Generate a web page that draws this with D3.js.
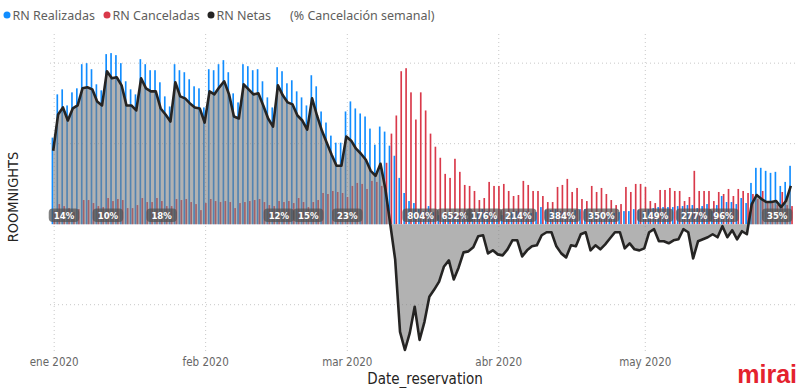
<!DOCTYPE html>
<html>
<head>
<meta charset="utf-8">
<script src="https://cdn.jsdelivr.net/npm/d3@7"></script>
<style>
  body { margin: 0; background: #fff; }
  svg { display: block; }
</style>
</head>
<body>
<div class="chart"></div>
<script>
const width = 800, height = 388;

// daily series, 1 ene 2020 .. 31 may 2020
const realizadas = [
  430,645,670,590,655,675,795,800,770,695,
  665,845,850,840,800,710,670,645,820,795,
  765,765,705,635,585,795,765,755,720,685,
  675,580,770,765,795,815,755,650,605,795,
  785,765,770,710,630,580,780,760,700,715,
  660,630,590,740,685,560,505,440,405,405,
  560,610,575,550,535,475,395,485,460,390,
  340,230,155,115,105,75,65,90,60,45,
  40,50,50,45,55,55,50,60,75,65,
  60,40,45,40,60,65,55,65,55,60,
  85,70,70,75,65,60,55,70,75,75,
  60,55,55,50,50,55,60,65,65,75,
  70,65,75,80,85,85,85,85,90,90,
  95,95,80,90,100,65,95,140,110,110,
  100,130,105,205,280,280,265,255,260,190,
  210,290
];
const canceladas = [
  65,100,90,80,60,75,120,120,105,90,
  85,130,115,125,120,80,80,95,130,110,
  110,130,115,90,90,125,120,125,110,100,
  70,105,125,115,110,115,110,80,105,110,
  115,120,125,110,95,90,115,110,115,105,
  130,110,85,110,120,155,150,165,160,155,
  135,190,205,200,175,215,210,190,305,450,
  540,760,775,655,520,655,565,450,385,330,
  250,230,325,260,195,190,165,120,130,210,
  190,190,200,165,140,145,215,195,165,165,
  140,110,110,185,195,225,160,180,125,115,
  190,160,180,150,120,95,100,185,160,200,
  200,185,115,105,170,170,180,165,165,115,
  135,265,165,165,165,115,160,150,175,140,
  175,165,155,150,125,165,115,105,95,160,
  95,90
];
const netas = [
  365,545,580,515,575,590,675,680,670,610,
  590,760,725,730,690,590,590,565,725,675,
  660,660,575,545,510,705,635,625,600,580,
  575,505,660,645,680,710,645,535,525,695,
  670,645,650,590,525,485,690,640,605,595,
  540,515,470,625,540,465,405,345,290,290,
  435,415,375,350,320,265,240,300,175,0,
  -175,-535,-625,-540,-410,-575,-485,-360,-325,-285,
  -210,-180,-275,-215,-140,-135,-115,-60,-55,-145,
  -130,-150,-155,-125,-80,-80,-160,-130,-110,-105,
  -55,-40,-40,-110,-145,-165,-105,-110,-50,-40,
  -130,-105,-125,-100,-70,-40,-40,-120,-95,-125,
  -130,-120,-40,-25,-85,-85,-95,-80,-75,-25,
  -40,-170,-85,-75,-65,-50,-65,-10,-65,-30,
  -75,-35,-50,100,145,125,110,110,115,85,
  115,190
];

// % cancelación semanal (only the labels that are shown)
const pctDates = ["2020-01-03","2020-01-12","2020-01-23","2020-02-16","2020-02-22","2020-03-01",
  "2020-03-16","2020-03-23","2020-03-29","2020-04-05","2020-04-14","2020-04-22",
  "2020-05-03","2020-05-11","2020-05-17","2020-05-28"];
const pctValues = [14,10,18,12,15,23,804,652,176,214,384,350,149,277,96,35];

const monthLabels = ["ene 2020","feb 2020","mar 2020","abr 2020","may 2020"];
const legendItems = ["RN Realizadas","RN Canceladas","RN Netas"];
const colors = ["#118DFF","#D9394A","#252423"];

const days = d3.utcDay.range(Date.UTC(2020,0,1), Date.UTC(2020,5,1));
const rows = days.map((d,i) => ({date: d, r: realizadas[i], c: canceladas[i], n: netas[i]}));

const svg = d3.select(".chart").append("svg")
    .attr("width", width)
    .attr("height", height);

const m = { top: 38, right: 3, bottom: 36, left: 50 };

const x = d3.scaleUtc()
    .domain([Date.UTC(2020,0,1), Date.UTC(2020,4,31)])
    .range([54.2, 54.2 + 151*4.885]);
const y = d3.scaleLinear()
    .domain([-635, 925])
    .range([height - m.bottom, m.top]);
const sub = d3.scaleBand().domain(["r","c"]).range([-2.9, 1.3]).padding(0.15);

// grid
const grid = svg.append("g").attr("stroke", "#c8c8c8").attr("stroke-dasharray", "1,3");
grid.selectAll(".h").data([-400, 400, 800]).join("line")
    .attr("x1", m.left).attr("x2", width - m.right)
    .attr("y1", d => y(d)).attr("y2", d => y(d));
const months = d3.utcMonth.range(Date.UTC(2020,0,1), Date.UTC(2020,5,1));
grid.selectAll(".v").data(months).join("line")
    .attr("x1", d => x(d)).attr("x2", d => x(d))
    .attr("y1", m.top - 4).attr("y2", height - m.bottom);

// bars
svg.append("g").selectAll("rect").data(rows).join("rect")
    .attr("x", d => x(d.date) + sub("r"))
    .attr("width", sub.bandwidth())
    .attr("y", d => y(d.r))
    .attr("height", d => y(0) - y(d.r))
    .attr("fill", colors[0]);
svg.append("g").selectAll("rect").data(rows).join("rect")
    .attr("x", d => x(d.date) + sub("c"))
    .attr("width", sub.bandwidth())
    .attr("y", d => y(d.c))
    .attr("height", d => y(0) - y(d.c))
    .attr("fill", colors[1]);

// netas area + line
const xl = d => x(d.date) - 1;
svg.append("path").datum(rows)
    .attr("fill", "#7f7f7f")
    .attr("fill-opacity", 0.6)
    .attr("d", d3.area().x(xl).y0(y(0)).y1(d => y(d.n)));
svg.append("path").datum(rows)
    .attr("fill", "none")
    .attr("stroke", colors[2])
    .attr("stroke-width", 2.6)
    .attr("stroke-linejoin", "round")
    .attr("d", d3.line().x(xl).y(d => y(d.n)));

// weekly % labels
const labFont = "'DejaVu Sans Condensed','DejaVu Sans',sans-serif";
const labs = svg.append("g");
pctDates.forEach((ds, i) => {
    const cx = x(new Date(ds + "T00:00:00Z"));
    const g = labs.append("g");
    const bg = g.append("rect").attr("fill", "#505050").attr("fill-opacity", 0.72)
        .attr("rx", 4).attr("ry", 4);
    const t = g.append("text")
        .attr("x", cx).attr("y", 218.8)
        .attr("text-anchor", "middle")
        .attr("font-family", labFont)
        .attr("font-stretch", "condensed")
        .attr("font-size", 9.5)
        .attr("font-weight", "bold")
        .attr("fill", "#fff")
        .text(pctValues[i] + "%");
    const tw = t.node().getComputedTextLength();
    bg.attr("x", cx - tw/2 - 5).attr("width", tw + 10)
      .attr("y", 208.5).attr("height", 13.5);
});

// x axis labels
svg.append("g").selectAll("text").data(months).join("text")
    .attr("x", d => x(d)).attr("y", 366)
    .attr("text-anchor", "middle")
    .attr("font-family", labFont)
    .attr("font-stretch", "condensed")
    .attr("font-size", 11.5)
    .attr("fill", "#666")
    .text((d, i) => monthLabels[i]);

svg.append("text")
    .attr("x", 425).attr("y", 384)
    .attr("text-anchor", "middle")
    .attr("font-family", labFont)
    .attr("font-stretch", "condensed")
    .attr("font-size", 15)
    .attr("fill", "#252423")
    .text("Date_reservation");

svg.append("text")
    .attr("transform", "translate(18,197) rotate(-90)")
    .attr("text-anchor", "middle")
    .attr("font-family", labFont)
    .attr("font-stretch", "condensed")
    .attr("font-size", 14.5)
    .attr("fill", "#252423")
    .text("ROOMNIGHTS");

// legend
const legX = [7, 107, 211];
legendItems.forEach((s, i) => {
    svg.append("circle").attr("cx", legX[i]).attr("cy", 15).attr("r", 3.5).attr("fill", colors[i]);
    svg.append("text").attr("x", legX[i] + 5.5).attr("y", 19.5)
        .attr("font-family", "'Noto Sans','Open Sans',sans-serif")
        .attr("font-size", 12.5).attr("fill", "#605E5C").text(s);
});
svg.append("text").attr("x", 290).attr("y", 19.5)
    .attr("font-family", "'Noto Sans','Open Sans',sans-serif")
    .attr("font-size", 12.5).attr("fill", "#605E5C").text("(% Cancelación semanal)");

// logo
svg.append("text")
    .attr("x", 797).attr("y", 383)
    .attr("text-anchor", "end")
    .attr("font-family", "'Liberation Sans',Arial,sans-serif")
    .attr("font-size", 25)
    .attr("font-weight", "bold")
    .attr("fill", "#E4222E")
    .text("mirai");
</script>
</body>
</html>
